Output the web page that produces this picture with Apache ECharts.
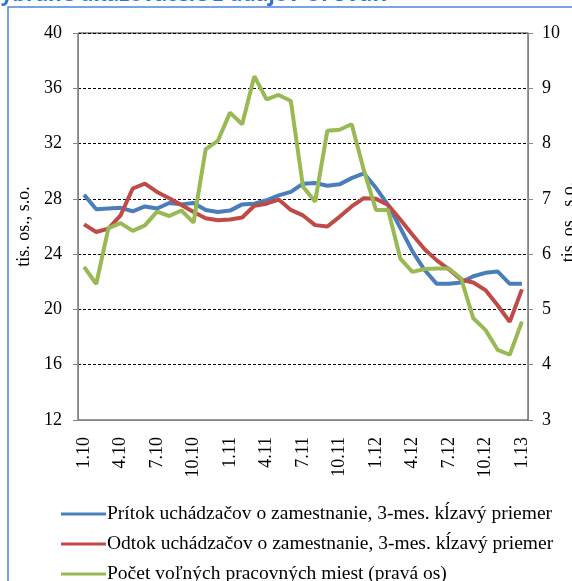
<!DOCTYPE html>
<html>
<head>
<meta charset="utf-8">
<script src="https://cdn.jsdelivr.net/npm/echarts@6/dist/echarts.min.js"></script>
<style>
html,body{margin:0;padding:0;background:#fff;}
#c{width:572px;height:581px;}
</style>
</head>
<body>
<div id="c"></div>
<script>
const categories = ["1.10","2.10","3.10","4.10","5.10","6.10","7.10","8.10","9.10","10.10","11.10","12.10",
  "1.11","2.11","3.11","4.11","5.11","6.11","7.11","8.11","9.11","10.11","11.11","12.11",
  "1.12","2.12","3.12","4.12","5.12","6.12","7.12","8.12","9.12","10.12","11.12","12.12","1.13"];
const pritok = [28.3,27.25,27.3,27.35,27.1,27.45,27.3,27.7,27.6,27.7,27.2,27.05,
  27.15,27.6,27.65,27.9,28.25,28.5,29.1,29.15,28.95,29.05,29.5,29.85,
  28.8,27.55,25.9,24.2,22.85,21.85,21.85,21.95,22.4,22.65,22.75,21.85,21.85];
const odtok = [26.15,25.6,25.85,26.8,28.75,29.1,28.5,28.05,27.55,27.05,26.6,26.45,
  26.5,26.65,27.5,27.65,27.95,27.2,26.8,26.1,26.0,26.7,27.45,28.05,
  28.0,27.55,26.5,25.4,24.35,23.55,22.9,22.15,21.95,21.4,20.3,19.1,21.45];
const miesta = [5.77,5.46,6.47,6.56,6.42,6.52,6.77,6.69,6.79,6.57,7.9,8.05,
  8.56,8.35,9.22,8.8,8.88,8.77,7.22,6.95,8.23,8.25,8.35,7.52,
  6.8,6.8,5.92,5.68,5.73,5.74,5.74,5.56,4.84,4.63,4.27,4.18,4.78];
const seriesNames = ["Prítok uchádzačov o zamestnanie, 3-mes. kĺzavý priemer",
  "Odtok uchádzačov o zamestnanie, 3-mes. kĺzavý priemer",
  "Počet voľných pracovných miest (pravá os)"];
const axisName = "tis. os., s.o.";
const titleText = "Vybrané ukazovatele z údajov ÚPSVaR";

const serif = '"Liberation Serif","Times New Roman",serif';
const colors = ['#4a7ebb','#be4b48','#98b954'];
const chart = echarts.init(document.getElementById('c'), null, {renderer:'canvas'});
const axisGray = '#868686';
const legendTops = [499, 529, 559];
chart.setOption({
  animation:false,
  color: colors,
  graphic:[
    {type:'rect', shape:{x:8,y:7,width:620,height:620}, style:{fill:'none',stroke:'#4f86d6',lineWidth:1.5}, z:-1},
    {type:'text', left:-13, top:-15, style:{text:titleText, fill:'#2e74d4', font:'bold 21px "Open Sans", "Liberation Sans", sans-serif'}},
    {type:'text', x:569, y:222, rotation:Math.PI/2,
     style:{text:axisName, fill:'#000', font:'18px ' + serif, align:'center', verticalAlign:'middle'}}
  ],
  grid:{left:78,right:44,top:33,bottom:161, containLabel:false, outerBoundsMode:'none',
        show:true, borderColor:'#333', borderWidth:1},
  legend: seriesNames.map((n,i)=>({
    orient:'vertical', left:56, top:legendTops[i], itemWidth:45, itemHeight:3,
    icon:'rect',
    textStyle:{fontFamily:serif, fontSize:19.5, color:'#000', padding:[0,0,0,-4]},
    data:[n]
  })),
  xAxis:{
    type:'category', data:categories, boundaryGap:true,
    axisLine:{lineStyle:{color:axisGray}},
    axisTick:{interval:2, length:5, lineStyle:{color:axisGray}},
    axisLabel:{interval:2, rotate:90, margin:17, fontFamily:serif, fontSize:18, color:'#000'}
  },
  yAxis:[
    {type:'value', min:12, max:40, interval:4,
     name:axisName, nameLocation:'middle', nameRotate:90, nameGap:36,
     nameTextStyle:{fontFamily:serif, fontSize:18, color:'#000'},
     axisLine:{show:true, lineStyle:{color:axisGray}},
     axisTick:{show:true, length:5, lineStyle:{color:axisGray}},
     axisLabel:{margin:16, fontFamily:serif, fontSize:18, color:'#000'},
     splitLine:{show:true, lineStyle:{color:'#000', type:[3,2], width:1}}
    },
    {type:'value', min:3, max:10, interval:1, position:'right',
     axisLine:{show:true, lineStyle:{color:axisGray}},
     axisTick:{show:true, length:5, lineStyle:{color:axisGray}},
     axisLabel:{margin:14, fontFamily:serif, fontSize:18, color:'#000'},
     splitLine:{show:false}
    }
  ],
  series:[
    {name:seriesNames[0], type:'line', data:pritok, yAxisIndex:0, symbol:'none', lineStyle:{width:4, color:colors[0]}, itemStyle:{color:colors[0]}},
    {name:seriesNames[1], type:'line', data:odtok, yAxisIndex:0, symbol:'none', lineStyle:{width:4, color:colors[1]}, itemStyle:{color:colors[1]}},
    {name:seriesNames[2], type:'line', data:miesta, yAxisIndex:1, symbol:'none', lineStyle:{width:4, color:colors[2]}, itemStyle:{color:colors[2]}}
  ]
});
</script>
</body>
</html>
